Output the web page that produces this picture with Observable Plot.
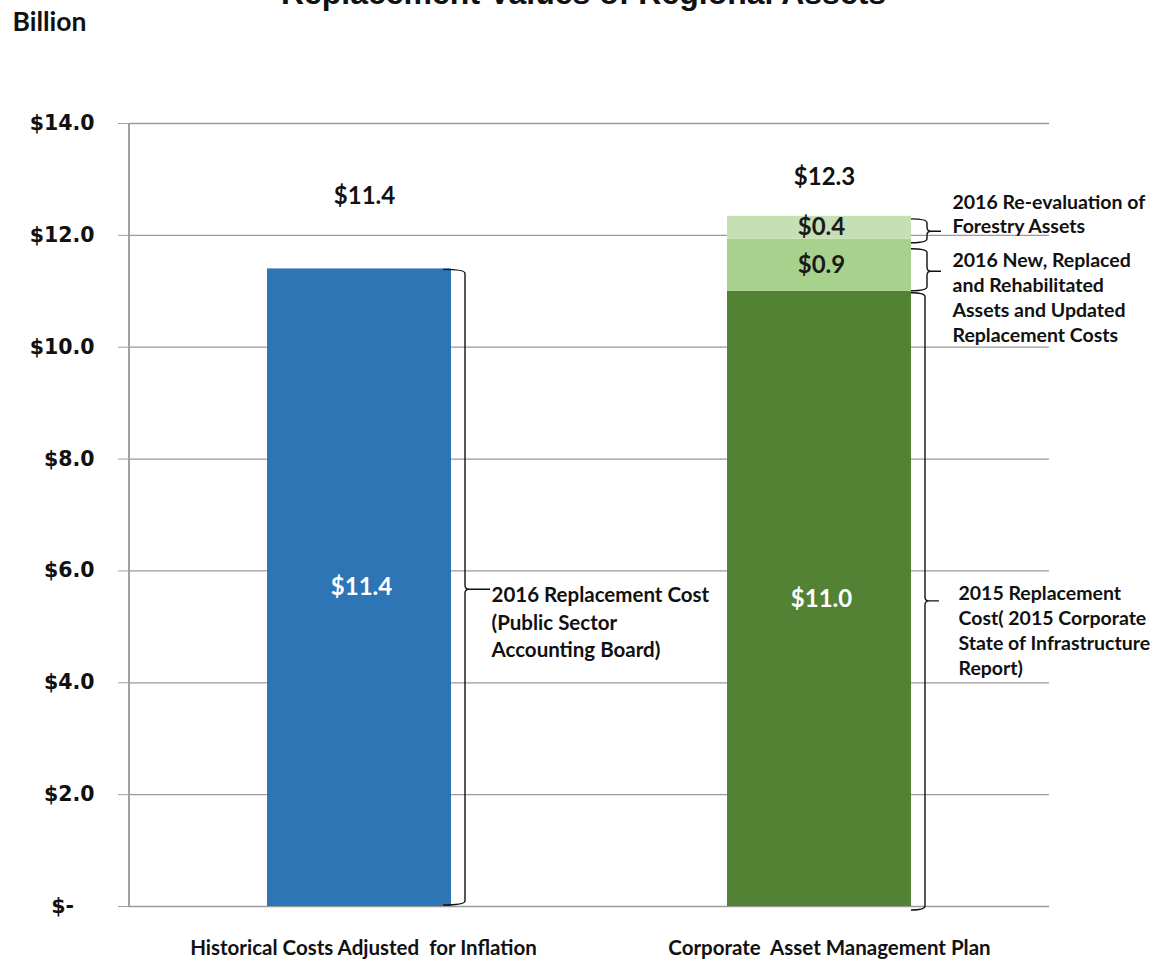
<!DOCTYPE html>
<html>
<head>
<meta charset="utf-8">
<script src="https://cdn.jsdelivr.net/npm/d3@7"></script>
<script src="https://cdn.jsdelivr.net/npm/@observablehq/plot@0.6"></script>
<style>
  html, body { margin: 0; padding: 0; background: #fff; }
  #chart svg { display: block; }
</style>
</head>
<body>
<div id="chart"></div>
<script>
// ---- data ----
const titleText = "Replacement Values of Regional Assets";
const unitText = "Billion";
const categories = ["Historical Costs Adjusted  for Inflation", "Corporate  Asset Management Plan"];
const segCategory = [categories[0], categories[1], categories[1], categories[1]];
const segValue = [11.4, 11.0, 0.93, 0.41];
const segNote = [
  "2016 Replacement Cost\n(Public Sector\nAccounting Board)",
  "2015 Replacement\nCost( 2015 Corporate\nState of Infrastructure\nReport)",
  "2016 New, Replaced\nand Rehabilitated\nAssets and Updated\nReplacement Costs",
  "2016 Re-evaluation of\nForestry Assets"
];
const yTicks = [0, 2, 4, 6, 8, 10, 12, 14];

// ---- styles ----
const segColor = ["#2E75B6", "#548235", "#A9D18E", "#C5E0B4"];
const segLabelColor = ["#ffffff", "#ffffff", "#1a1a1a", "#1a1a1a"];
const noteStyle = [
  {dx: 132, dy: -5, lh: 27.5, size: 20.5},
  {dx: 139, dy: -17, lh: 25, size: 19.5},
  {dx: 133, dy: -16.5, lh: 25, size: 19.5},
  {dx: 133, dy: -36, lh: 24, size: 19.5}
];
const braceStyle = [
  {start: -8, vert: 14, tip: 39, padTop: 1, padBot: -1, tipDy: 2},
  {start: 0, vert: 14, tip: 28, padTop: 2, padBot: 4, tipDy: 2.5},
  {start: 0, vert: 16, tip: 30, padTop: 10, padBot: 0, tipDy: 6.5},
  {start: 0, vert: 16, tip: 30, padTop: 3, padBot: 4, tipDy: 4}
];
const totalDy = [-73, -39];
const catDx = [4, 10];

// ---- derived table ----
const cum = {};
const rows = segValue.map((v, i) => {
  const c = segCategory[i];
  const base = cum[c] || 0;
  cum[c] = base + v;
  return {i, category: c, value: v, y1: base, y2: base + v, mid: base + v / 2,
          note: segNote[i], color: segColor[i], labelColor: segLabelColor[i],
          label: "$" + v.toFixed(1)};
});
const totals = categories.map((c, k) => ({category: c, total: cum[c], label: "$" + cum[c].toFixed(1), k}));

const calibri = "Lato, 'Open Sans', sans-serif";
const verdana = "'DejaVu Sans', Verdana, sans-serif";

function braceMark(index, scales, values, dimensions) {
  const x = scales.x, y = scales.y;
  const bw = x.bandwidth();
  const g = d3.create("svg:g");
  // y axis line
  g.append("line")
    .attr("x1", dimensions.marginLeft).attr("x2", dimensions.marginLeft)
    .attr("y1", y(yTicks[yTicks.length - 1])).attr("y2", y(0))
    .attr("stroke", "#a0a0a0").attr("stroke-width", 2);
  const gb = g.append("g").attr("fill", "none").attr("stroke", "#111").attr("stroke-width", 1.4);
  rows.forEach((r, i) => {
    const s = braceStyle[i];
    const right = x(r.category) + bw;
    const x0 = right + s.start, xv = right + s.vert, xt = right + s.tip;
    const yt = y(r.y2) + s.padTop, yb = y(r.y1) + s.padBot, ym = y(r.mid) + s.tipDy;
    const rad = 4;
    const p = `M${x0},${yt} Q${xv},${yt} ${xv},${yt + rad} L${xv},${ym - rad} Q${xv},${ym} ${xv + rad},${ym} L${xt},${ym} M${xv + rad},${ym} Q${xv},${ym} ${xv},${ym + rad} L${xv},${yb - rad} Q${xv},${yb} ${x0},${yb}`;
    gb.append("path").attr("d", p);
  });
  return g.node();
}

const noteMarks = rows.map((r, i) => Plot.text([r], {
  x: "category", y: "mid", text: "note",
  dx: noteStyle[i].dx, dy: noteStyle[i].dy,
  textAnchor: "start", lineAnchor: "top",
  lineHeight: noteStyle[i].lh / noteStyle[i].size,
  fontSize: noteStyle[i].size, fontWeight: "bold", fontFamily: calibri, fill: "#111"
}));

const totalMarks = totals.map((t, k) => Plot.text([t], {
  x: "category", y: "total", text: "label", dx: 5, dy: totalDy[k],
  fontSize: 24, fontWeight: "bold", fontFamily: calibri, fill: "#111"
}));

const catMarks = categories.map((c, k) => Plot.text([c], {
  x: d => d, text: d => d, frameAnchor: "bottom", lineAnchor: "top", dy: 34, dx: catDx[k],
  fontSize: 20.5, fontWeight: "bold", fontFamily: calibri, fill: "#111"
}));

const chart = Plot.plot({
  width: 1161,
  height: 961,
  marginLeft: 129,
  marginRight: 112,
  marginTop: 123,
  marginBottom: 55,
  style: {background: "#fff", overflow: "hidden"},
  x: {domain: categories, paddingInner: 0.6, paddingOuter: 0.3, axis: null},
  y: {domain: [0, 14], axis: null},
  marks: [
    Plot.ruleY(yTicks, {stroke: "#9a9a9a", strokeWidth: 1.3}),
    Plot.barY(rows, {x: "category", y1: "y1", y2: "y2", fill: "color"}),
    Plot.axisY({
      ticks: yTicks, tickSize: 11, tickPadding: 24, stroke: "#a0a0a0",
      tickFormat: d => d === 0 ? "$-\u2002\u2002" : "$" + d.toFixed(1),
      fontSize: 20.5, fontWeight: "bold", fontFamily: verdana, fill: "#111", label: null
    }),
    Plot.text(rows, {x: "category", y: "mid", text: "label", fill: "labelColor",
      fontSize: 24, fontWeight: "bold", fontFamily: calibri, dx: 2}),
    ...totalMarks,
    braceMark,
    ...noteMarks,
    ...catMarks,
    Plot.text([titleText], {frameAnchor: "top", lineAnchor: "bottom", dx: -6, dy: -120,
      fontSize: 32, fontWeight: "bold", fontFamily: "'Liberation Sans', Arial, sans-serif", fill: "#111"}),
    Plot.text([unitText], {frameAnchor: "top-left", textAnchor: "start", lineAnchor: "middle", dx: -117, dy: -101,
      fontSize: 26.5, fontWeight: "bold", fontFamily: calibri, fill: "#111"})
  ]
});
document.getElementById("chart").appendChild(chart);
</script>
</body>
</html>
